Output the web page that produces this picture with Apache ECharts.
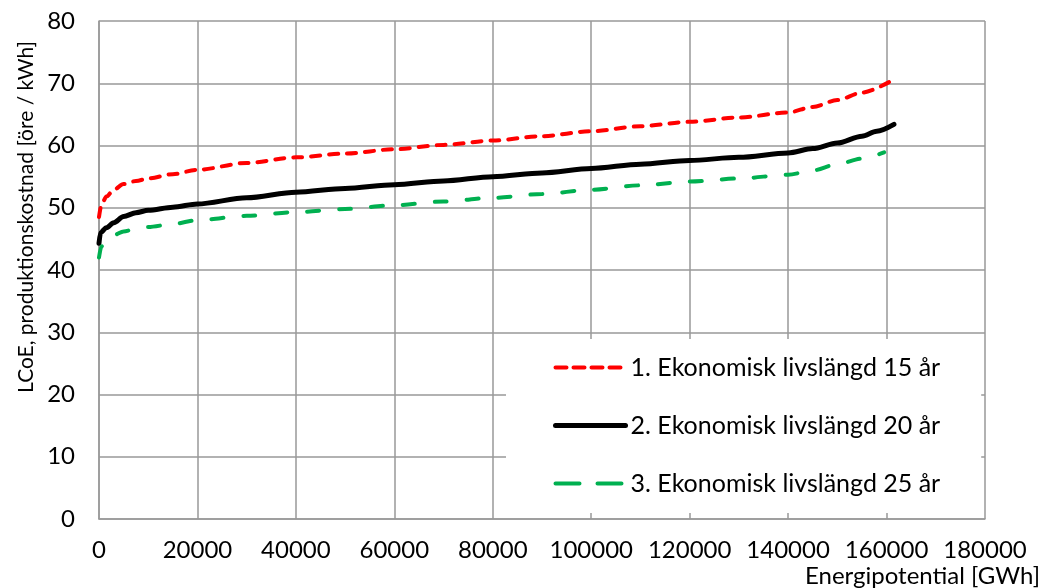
<!DOCTYPE html>
<html>
<head>
<meta charset="utf-8">
<title>LCoE</title>
<script src="https://cdn.jsdelivr.net/npm/echarts@6/dist/echarts.min.js"></script>
<style>
  html, body { margin: 0; padding: 0; background: #fff; }
  #chart { width: 1043px; height: 588px; }
</style>
</head>
<body>
<div id="chart"></div>
<script>
// energipotential [GWh] vs LCoE [öre / kWh]
const seriesNames = [
  "1. Ekonomisk livslängd 15 år",
  "2. Ekonomisk livslängd 20 år",
  "3. Ekonomisk livslängd 25 år"
];

const xRed = [0, 500, 1500, 3000, 5000, 7500, 10000, 15000, 20000, 30000, 40000, 50000, 60000,
  70000, 80000, 90000, 100000, 110000, 120000, 130000, 140000, 145000, 150000, 155000, 161000];
const yRed = [48.5, 50.5, 51.8, 52.9, 53.8, 54.3, 54.7, 55.4, 56.1, 57.2, 58.1, 58.7, 59.4,
  60.1, 60.8, 61.5, 62.3, 63.1, 63.8, 64.5, 65.3, 66.2, 67.3, 68.5, 70.4];

const xBlack = [0, 300, 1500, 3000, 5000, 7500, 10000, 15000, 20000, 30000, 40000, 50000, 60000,
  70000, 80000, 90000, 100000, 110000, 120000, 130000, 140000, 145000, 150000, 155000, 158000, 161500];
const yBlack = [44.3, 46.0, 46.8, 47.6, 48.6, 49.2, 49.6, 50.1, 50.6, 51.6, 52.5, 53.1, 53.7,
  54.3, 55.0, 55.6, 56.3, 57.0, 57.6, 58.1, 58.8, 59.5, 60.4, 61.5, 62.3, 63.4];

const xGreen = [0, 500, 1500, 3000, 5000, 7500, 10000, 15000, 20000, 30000, 40000, 50000, 60000,
  70000, 80000, 90000, 100000, 110000, 120000, 130000, 140000, 145000, 150000, 155000, 159500];
const yGreen = [42.0, 43.8, 44.8, 45.6, 46.2, 46.6, 46.9, 47.4, 48.0, 48.7, 49.3, 49.8, 50.4,
  51.0, 51.6, 52.2, 52.9, 53.6, 54.2, 54.7, 55.3, 56.0, 57.0, 57.9, 58.9];

function pairs(xs, ys) {
  return xs.map((x, i) => [x, ys[i]]);
}

const font = "Lato, 'Liberation Sans', sans-serif";
const gridColor = "#999999";

const chart = echarts.init(document.getElementById("chart"));
chart.setOption({
  backgroundColor: "#fff",
  animation: false,
  textStyle: { fontFamily: font, color: "#000" },
  grid: { left: 99, right: 58, top: 21, bottom: 68 },
  xAxis: {
    type: "value",
    min: 0,
    max: 180000,
    interval: 20000,
    name: "Energipotential [GWh]",
    nameLocation: "end",
    nameGap: 55,
    nameTextStyle: {
      fontFamily: font, fontSize: 24, color: "#000",
      align: "right", verticalAlign: "top", padding: [45, 0, 0, 0]
    },
    axisLine: { show: true, lineStyle: { color: gridColor, width: 1.5 } },
    axisTick: { show: false },
    axisLabel: {
      fontFamily: font, fontSize: 24, color: "#000", margin: 19,
      formatter: (v) => String(v)
    },
    splitLine: { show: true, lineStyle: { color: gridColor, width: 1.5 } }
  },
  yAxis: {
    type: "value",
    min: 0,
    max: 80,
    interval: 10,
    name: "LCoE, produktionskostnad [öre / kWh]",
    nameLocation: "middle",
    nameGap: 59,
    nameTextStyle: {
      fontFamily: font, fontSize: 21, color: "#000",
      padding: [0, 0, 0, 106]
    },
    axisLine: { show: true, lineStyle: { color: gridColor, width: 1.5 } },
    axisTick: { show: false },
    axisLabel: { fontFamily: font, fontSize: 24, color: "#000", margin: 24 },
    splitLine: { show: true, lineStyle: { color: gridColor, width: 1.5 } }
  },
  legend: {
    orient: "vertical",
    left: 506,
    top: 339,
    backgroundColor: "#fff",
    padding: [16, 41, 17, 47],
    itemWidth: 70,
    itemHeight: 14,
    itemGap: 33,
    itemStyle: { opacity: 0 },
    textStyle: { fontFamily: font, fontSize: 25, color: "#000", lineHeight: 24 },
    data: [
      { name: seriesNames[0], lineStyle: { width: 4, type: [11, 7], cap: "round" } },
      { name: seriesNames[1], lineStyle: { width: 5, cap: "round" } },
      { name: seriesNames[2], lineStyle: { width: 4, type: [24, 18], cap: "round" } }
    ]
  },
  series: [
    {
      name: seriesNames[0],
      type: "line",
      data: pairs(xRed, yRed),
      symbol: "none",
      smooth: 0.3,
      smoothMonotone: "x",
      itemStyle: { color: "#ff0000" },
      lineStyle: { color: "#ff0000", width: 4, type: [9, 9], cap: "round" }
    },
    {
      name: seriesNames[1],
      type: "line",
      data: pairs(xBlack, yBlack),
      symbol: "none",
      smooth: 0.3,
      smoothMonotone: "x",
      itemStyle: { color: "#000000" },
      lineStyle: { color: "#000000", width: 5, cap: "round" }
    },
    {
      name: seriesNames[2],
      type: "line",
      data: pairs(xGreen, yGreen),
      symbol: "none",
      smooth: 0.3,
      smoothMonotone: "x",
      itemStyle: { color: "#00b050" },
      lineStyle: { color: "#00b050", width: 4, type: [12, 20], cap: "round" }
    }
  ]
});
</script>
</body>
</html>
